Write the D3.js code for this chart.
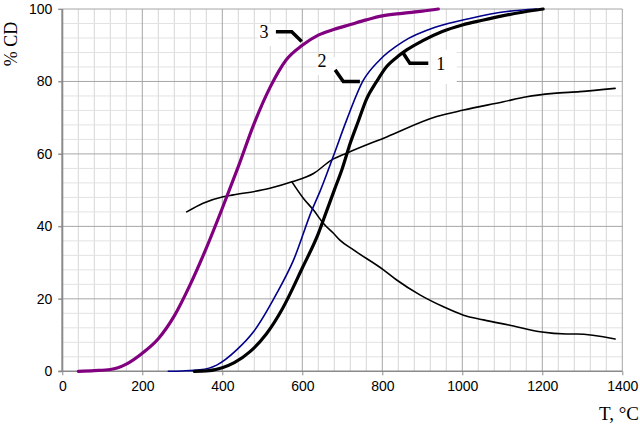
<!DOCTYPE html>
<html>
<head>
<meta charset="utf-8">
<script src="https://cdn.jsdelivr.net/npm/d3@7/dist/d3.min.js"></script>
<style>
  html, body { margin: 0; padding: 0; background: #fff; }
  svg { display: block; }
</style>
</head>
<body>
<svg id="chart" width="640" height="427"></svg>
<script>
// ---- data ----
const xTicks = [0, 200, 400, 600, 800, 1000, 1200, 1400];
const yTicks = [0, 20, 40, 60, 80, 100];

// curve 3 (purple)
const t3 = [40, 80, 120, 160, 200, 240, 280, 320, 360, 400, 440, 480, 520, 560, 600, 640, 680, 720, 760, 800, 850, 900, 940];
const v3 = [0, 0.2, 0.5, 2.0, 5.0, 9.0, 15.3, 24, 34, 45, 56.5, 68.5, 78.5, 86, 90, 92.8, 94.4, 95.7, 97, 98.1, 98.8, 99.4, 100];

// curve 2 (navy)
const t2 = [265, 300, 344, 386, 436, 478, 536, 578, 624, 644, 678, 711, 752, 794, 852, 936, 1019, 1111, 1186];
const v2 = [0, 0.1, 0.4, 1.7, 5.9, 10.9, 21.5, 30.7, 44.5, 49.6, 59.5, 69.4, 80.2, 86, 91, 95.1, 97.4, 99.3, 100];

// curve 1 (black, thick)
const t1 = [330, 360, 400, 430, 470, 510, 550, 600, 640, 660, 680, 700, 720, 740, 760, 786, 811, 840, 861, 900, 950, 1000, 1050, 1100, 1150, 1202];
const v1 = [0, 0.1, 1.0, 2.4, 5.5, 10.3, 17.2, 28.5, 38, 44, 50, 56, 63, 69, 75, 80, 84.1, 87, 88.7, 91.2, 93.8, 95.6, 96.9, 98.1, 99.1, 100];

// rising thin black curve
const tUp = [311, 352, 402, 428, 519, 574, 628, 673, 711, 811, 936, 1003, 1103, 1161, 1228, 1294, 1382];
const vUp = [44, 46.4, 48.2, 48.7, 50.5, 52.3, 54.6, 58.3, 60.2, 64.7, 70.3, 72.1, 74.4, 75.8, 76.7, 77.2, 78.1];

// falling thin black curve
const tDown = [574, 603, 628, 653, 678, 694, 728, 803, 836, 894, 953, 1003, 1053, 1128, 1194, 1261, 1286, 1382];
const vDown = [52.3, 47.7, 44.5, 40.8, 38.1, 36.2, 33.5, 28, 25.2, 21.1, 17.8, 15.5, 14.2, 12.5, 10.9, 10.3, 10.3, 8.9];

// curve labels and their leader lines (data coordinates)
const labelNames = ["3", "2", "1"];
const labelPos = [[504, 92], [649, 84], [946, 83.2]];
const leaderPts = [
  [[534, 93.7], [573.5, 93.7], [598.5, 91]],
  [[682, 83.2], [702.5, 80], [744, 80]],
  [[852.5, 87.8], [869, 85], [915, 85]]
];

// ---- chart ----
const svg = d3.select("#chart");
const x = d3.scaleLinear().domain([0, 1400]).range([62.3, 622.3]);
const y = d3.scaleLinear().domain([0, 100]).range([371.3, 9]);

const g = svg.append("g");

// minor grid
const xMinor = d3.range(0, 1401, 40).filter(d => d % 200 !== 0);
const yMinor = d3.range(0, 101, 4).filter(d => d % 20 !== 0);
g.selectAll(".vminor").data(xMinor).join("line")
  .attr("x1", d => x(d)).attr("x2", d => x(d))
  .attr("y1", y(0)).attr("y2", y(100))
  .attr("stroke", "#d6d6d6").attr("stroke-width", 1);
g.selectAll(".hminor").data(yMinor).join("line")
  .attr("x1", x(0)).attr("x2", x(1400))
  .attr("y1", d => y(d)).attr("y2", d => y(d))
  .attr("stroke", "#e2e2e2").attr("stroke-width", 1);

// major grid
g.selectAll(".vmajor").data(xTicks.slice(1)).join("line")
  .attr("x1", d => x(d)).attr("x2", d => x(d))
  .attr("y1", y(0)).attr("y2", y(100))
  .attr("stroke", "#a6a6a6").attr("stroke-width", 1);
g.selectAll(".hmajor").data(yTicks.slice(1)).join("line")
  .attr("x1", x(0) - 4).attr("x2", x(1400))
  .attr("y1", d => y(d)).attr("y2", d => y(d))
  .attr("stroke", "#a6a6a6").attr("stroke-width", 1);

// white patches behind curve labels
const labelBoxes = [[-6, -14, 20, 22], [-6, -10, 20, 18], [-10, -20, 26, 34]];
labelPos.forEach((p, i) => {
  const b = labelBoxes[i];
  g.append("rect")
    .attr("x", x(p[0]) + b[0]).attr("y", y(p[1]) + b[1])
    .attr("width", b[2]).attr("height", b[3])
    .attr("fill", "#fff");
});

// axes
const axisColor = "#8a8a8a";
g.append("line").attr("x1", x(0)).attr("x2", x(0)).attr("y1", y(0) + 0.5).attr("y2", y(100))
  .attr("stroke", axisColor).attr("stroke-width", 2);
g.append("line").attr("x1", x(0) - 4).attr("x2", x(1400)).attr("y1", y(0)).attr("y2", y(0))
  .attr("stroke", axisColor).attr("stroke-width", 1.5);

const xAxis = d3.axisBottom(x).tickValues(xTicks).tickSize(4).tickPadding(6).tickFormat(d3.format("d"));
const xa = g.append("g").attr("transform", `translate(0,${y(0)})`).call(xAxis);
xa.select(".domain").remove();
xa.selectAll("line").attr("stroke", axisColor);
xa.selectAll("text").attr("font-family", "'Liberation Sans', Arial, sans-serif")
  .attr("font-size", 14).attr("fill", "#000").attr("dy", "0.72em");

const yAxis = d3.axisLeft(y).tickValues(yTicks).tickSize(4).tickPadding(6).tickFormat(d3.format("d"));
const ya = g.append("g").attr("transform", `translate(${x(0)},0)`).call(yAxis);
ya.select(".domain").remove();
ya.selectAll("line").attr("stroke", axisColor);
ya.selectAll("text").attr("font-family", "'Liberation Sans', Arial, sans-serif")
  .attr("font-size", 14).attr("fill", "#000");

// curves
const curveLine = d3.line().x(d => x(d[0])).y(d => y(d[1])).curve(d3.curveMonotoneX);
const line = d3.line().x(d => x(d[0])).y(d => y(d[1]));
const zip = (a, b) => a.map((d, i) => [d, b[i]]);
const series = [
  { pts: zip(tUp, vUp), color: "#000", w: 1.6 },
  { pts: zip(tDown, vDown), color: "#000", w: 1.6 },
  { pts: zip(t3, v3), color: "#800080", w: 3.2 },
  { pts: zip(t2, v2), color: "#00008b", w: 1.6 },
  { pts: zip(t1, v1), color: "#000", w: 3.2 }
];
g.selectAll(".curve").data(series).join("path")
  .attr("d", d => curveLine(d.pts))
  .attr("fill", "none")
  .attr("stroke", d => d.color)
  .attr("stroke-width", d => d.w)
  .attr("stroke-linejoin", "round")
  .attr("stroke-linecap", "round");

// leader lines
g.selectAll(".leader").data(leaderPts).join("path")
  .attr("d", d => line(d))
  .attr("fill", "none").attr("stroke", "#000").attr("stroke-width", 3.5)
  .attr("stroke-linejoin", "miter");

// curve labels
g.selectAll(".clabel").data(labelNames).join("text")
  .attr("x", (d, i) => x(labelPos[i][0]))
  .attr("y", (d, i) => y(labelPos[i][1]))
  .attr("text-anchor", "middle")
  .attr("font-family", "'Liberation Serif', 'Times New Roman', serif")
  .attr("font-size", 18)
  .text(d => d);

// axis titles
svg.append("text")
  .attr("transform", "translate(17,44) rotate(-90)")
  .attr("text-anchor", "middle")
  .attr("font-family", "'Liberation Serif', 'Times New Roman', serif")
  .attr("font-size", 18)
  .text("% CD");
svg.append("text")
  .attr("x", 639).attr("y", 420)
  .attr("text-anchor", "end")
  .attr("font-family", "'Liberation Serif', 'Times New Roman', serif")
  .attr("font-size", 19)
  .text("T, °C");
</script>
</body>
</html>
